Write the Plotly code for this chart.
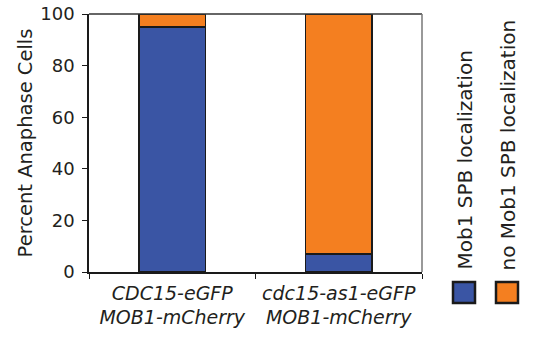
import plotly.graph_objects as go

categories = ["<i>CDC15-eGFP</i><br><i>MOB1-mCherry</i>", "<i>cdc15-as1-eGFP</i><br><i>MOB1-mCherry</i>"]
mob1_spb = [95, 7]
no_mob1_spb = [5, 93]
series_names = ["Mob1 SPB localization", "no Mob1 SPB localization"]
colors = ["#3A55A4", "#F47F20"]
y_ticks = [0, 20, 40, 60, 80, 100]

FONT = "DejaVu Sans"
TXT = "#231F20"

fig = go.Figure()
for name, vals, c in zip(series_names, [mob1_spb, no_mob1_spb], colors):
    fig.add_trace(go.Bar(x=categories, y=vals, name=name, marker=dict(color=c, line=dict(color="#1a1a1a", width=1.5)),
                         width=0.4, showlegend=False))

L, R, T, B = 89, 111, 14, 69
W, H = 533, 341
pw, ph = W - L - R, H - T - B

def px(x):
    return (x - L) / pw

def py(y):
    return (H - B - y) / ph

shapes = [
    dict(type="line", xref="paper", yref="paper", x0=0, x1=1, y0=1, y1=1, line=dict(color="#333", width=1.5)),
    dict(type="line", xref="paper", yref="paper", x0=1, x1=1, y0=0, y1=1, line=dict(color="#777", width=1.5)),
]
annotations = []
leg_x = [464, 507]
for i, (name, c) in enumerate(zip(series_names, colors)):
    cx = leg_x[i]
    shapes.append(dict(type="rect", xref="paper", yref="paper", x0=px(cx - 11), x1=px(cx + 11),
                       y0=py(303), y1=py(282), fillcolor=c, line=dict(color="#1a1a1a", width=2.5)))
    annotations.append(dict(text=name, xref="paper", yref="paper", x=px(cx), y=py(272), xanchor="center",
                            yanchor="bottom", textangle=-90, showarrow=False, font=dict(family=FONT, size=20, color=TXT)))

fig.update_layout(
    width=W, height=H, margin=dict(l=L, r=R, t=T, b=B, autoexpand=False),
    paper_bgcolor="white", plot_bgcolor="white",
    barmode="stack", bargap=0.6,
    font=dict(family=FONT, size=19, color=TXT),
    shapes=shapes, annotations=annotations,
    xaxis=dict(showline=True, linecolor="#1a1a1a", linewidth=1.5, ticks="outside", tickson="boundaries",
               ticklen=5, tickcolor="#1a1a1a", tickfont=dict(size=19, family=FONT, color=TXT), showgrid=False,
               automargin=False, ticklabelstandoff=3),
    yaxis=dict(range=[0, 100], tickvals=y_ticks, showline=True, linecolor="#1a1a1a", linewidth=1.5,
               ticks="outside", ticklen=5, tickcolor="#1a1a1a", showgrid=False, zeroline=False,
               tickfont=dict(size=18, family=FONT, color=TXT), automargin=False, ticklabelstandoff=4,
               title=dict(text="Percent Anaphase Cells", font=dict(size=19.5, family=FONT, color=TXT), standoff=2)),
)

fig.write_html("out.html")
